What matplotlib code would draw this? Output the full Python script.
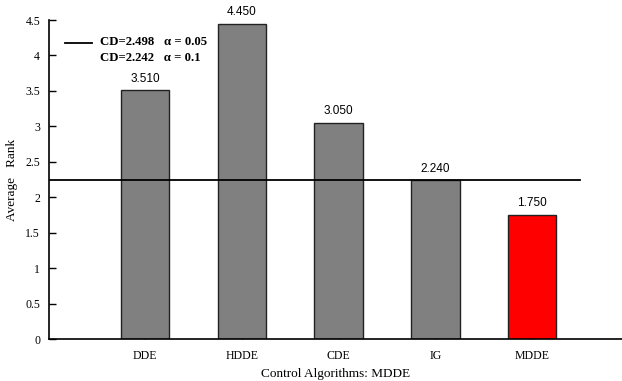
import numpy as np
import matplotlib
matplotlib.use("Agg")
import matplotlib.pyplot as plt

# data
algorithms = ["DDE", "HDDE", "CDE", "IG", "MDDE"]
avg_rank = [3.510, 4.450, 3.050, 2.240, 1.750]
bar_colors = ["#808080", "#808080", "#808080", "#808080", "#ff0000"]
cd_line = 2.242
cd_labels = ["CD=2.498   \u03b1 = 0.05", "CD=2.242   \u03b1 = 0.1"]

serif = "Liberation Serif"
sans = "Liberation Sans"

fig = plt.figure(figsize=(6.22, 3.81), dpi=100)
ax = fig.add_axes([0.078, 0.11, 0.922, 0.8375])

x = np.arange(1, len(algorithms) + 1)
bars = ax.bar(x, avg_rank, width=0.5, color=bar_colors,
              edgecolor="#222222", linewidth=1.0, zorder=2)

for xi, v in zip(x, avg_rank):
    ax.annotate(f"{v:.3f}", (xi, v), xytext=(0, 4), textcoords="offset points",
                ha="center", va="bottom", fontsize=8.5, family=sans)

# critical difference line
ax.plot([0, 5.5], [cd_line, cd_line], color="black", linewidth=1.3, zorder=3)

# CD legend
ax.plot([0.028, 0.076], [0.928, 0.928], color="black", linewidth=1.3,
        transform=ax.transAxes, clip_on=False)
ax.text(0.09, 0.930, cd_labels[0], transform=ax.transAxes, fontsize=9.2,
        family=serif, fontweight="bold", va="center", ha="left")
ax.text(0.09, 0.880, cd_labels[1], transform=ax.transAxes, fontsize=9.2,
        family=serif, fontweight="bold", va="center", ha="left")

ax.set_xlim(0, 5.93)
ax.set_ylim(0, 4.5)
ax.set_yticks(np.arange(0, 4.51, 0.5))
ax.set_yticklabels(["0", "0.5", "1", "1.5", "2", "2.5", "3", "3.5", "4", "4.5"])
ax.set_xticks(x)
ax.set_xticklabels(algorithms)

for lab in ax.get_xticklabels() + ax.get_yticklabels():
    lab.set_family(serif)
    lab.set_fontsize(8.5)

ax.tick_params(axis="y", direction="in", length=5, width=1, pad=6)
ax.tick_params(axis="x", direction="in", length=3, width=1, pad=8)

ax.spines["top"].set_visible(False)
ax.spines["right"].set_visible(False)
ax.spines["left"].set_linewidth(1.2)
ax.spines["bottom"].set_linewidth(1.2)

ax.set_xlabel("Control Algorithms: MDDE", family=serif, fontsize=9.5, labelpad=4)
ax.set_ylabel("Average   Rank", family=serif, fontsize=9.5, labelpad=5)

fig.savefig("out.png", dpi=100)
